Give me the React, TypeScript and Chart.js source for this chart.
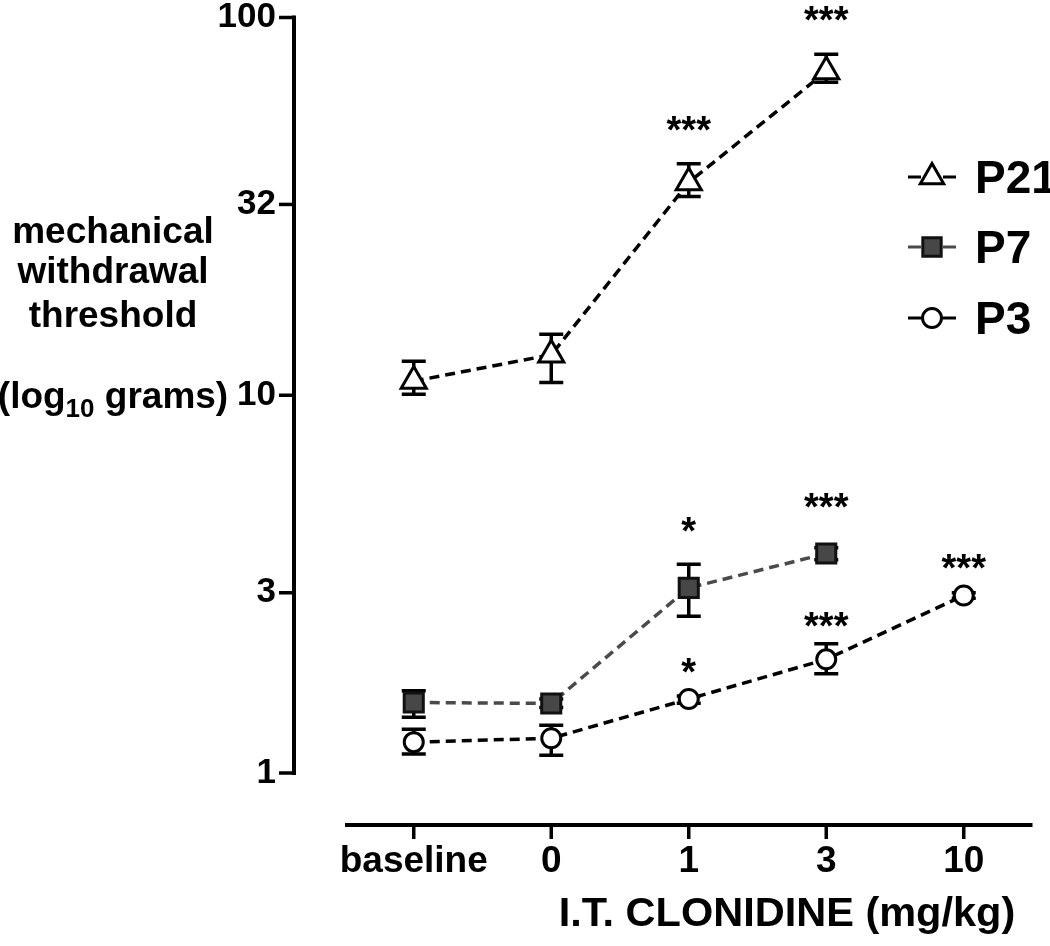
import React, { useEffect, useRef } from "react";
import { Chart, registerables } from "chart.js";
import { drawPoint } from "chart.js/helpers";

Chart.register(...registerables);

const DOSES = ["baseline", "0", "1", "3", "10"];
const Y_TICKS = [1, 3, 10, 32, 100];

const P21_MEAN = [10.9, 12.8, 36.6, 72.0, null];
const P21_HI = [12.3, 14.5, 41.0, 79.9, null];
const P21_LO = [10.06, 10.8, 33.6, 67.4, null];
const P21_SIG = ["", "", "***", "***", ""];

const P7_MEAN = [1.537, 1.528, 3.09, 3.81, null];
const P7_HI = [1.65, 1.57, 3.57, 3.95, null];
const P7_LO = [1.404, 1.49, 2.6, 3.67, null];
const P7_SIG = ["", "", "*", "***", ""];

const P3_MEAN = [1.207, 1.236, 1.57, 2.0, 2.95];
const P3_HI = [1.305, 1.337, 1.6, 2.2, 3.0];
const P3_LO = [1.122, 1.115, 1.53, 1.83, 2.9];
const P3_SIG = ["", "", "*", "***", "***"];

const SERIES_NAMES = ["P21", "P7", "P3"];
const Y_TITLE_LINES = ["mechanical", "withdrawal", "threshold"];
const X_TITLE = "I.T. CLONIDINE (mg/kg)";

const FONT = '"Liberation Sans", Arial, Helvetica, sans-serif';

const decor = {
  id: "decor",
  beforeDatasetsDraw(chart: any) {
    const ctx = chart.ctx;
    const xs = chart.scales.x;
    const ys = chart.scales.y;
    chart.data.datasets.forEach((ds: any) => {
      ds.errHi.forEach((hi: number | null, i: number) => {
        if (hi == null) return;
        const px = xs.getPixelForValue(i);
        const top = ys.getPixelForValue(hi);
        const bot = ys.getPixelForValue(ds.errLo[i]);
        ctx.save();
        ctx.strokeStyle = "#000";
        ctx.lineWidth = 3.5;
        ctx.beginPath();
        ctx.moveTo(px, top);
        ctx.lineTo(px, bot);
        ctx.moveTo(px - 12, top);
        ctx.lineTo(px + 12, top);
        ctx.moveTo(px - 12, bot);
        ctx.lineTo(px + 12, bot);
        ctx.stroke();
        ctx.restore();
      });
    });
  },
  afterDraw(chart: any) {
    const ctx = chart.ctx;
    const xs = chart.scales.x;
    const ys = chart.scales.y;
    const area = chart.chartArea;
    ctx.save();
    ctx.strokeStyle = "#000";
    ctx.fillStyle = "#000";

    // y axis line + ticks
    const yAxisX = 294;
    ctx.lineWidth = 4;
    ctx.beginPath();
    ctx.moveTo(yAxisX, ys.getPixelForValue(100) - 2);
    ctx.lineTo(yAxisX, ys.getPixelForValue(1) + 2);
    ctx.stroke();
    ctx.lineWidth = 3.5;
    Y_TICKS.forEach((v) => {
      const py = ys.getPixelForValue(v);
      ctx.beginPath();
      ctx.moveTo(yAxisX, py);
      ctx.lineTo(yAxisX - 15, py);
      ctx.stroke();
    });

    // x axis line + ticks
    const xAxisY = 825;
    ctx.lineWidth = 4;
    ctx.beginPath();
    ctx.moveTo(area.left, xAxisY);
    ctx.lineTo(area.right, xAxisY);
    ctx.stroke();
    ctx.lineWidth = 3.5;
    DOSES.forEach((_, i) => {
      const px = xs.getPixelForValue(i);
      ctx.beginPath();
      ctx.moveTo(px, xAxisY);
      ctx.lineTo(px, xAxisY + 14);
      ctx.stroke();
    });

    // significance stars
    ctx.font = `bold 38px ${FONT}`;
    ctx.textAlign = "center";
    ctx.textBaseline = "alphabetic";
    chart.data.datasets.forEach((ds: any) => {
      ds.sig.forEach((s: string, i: number) => {
        if (!s) return;
        const px = xs.getPixelForValue(i);
        const top = Math.min(
          ys.getPixelForValue(ds.errHi[i]),
          ys.getPixelForValue(ds.data[i]) - ds.pointRadius
        );
        const center = top - ds.starGap;
        ctx.fillText(s, px, center + 0.58 * 38);
      });
    });

    // legend
    const rows = [177, 247, 318];
    chart.data.datasets.forEach((ds: any, k: number) => {
      const cy = rows[k];
      const mx = 932;
      ctx.strokeStyle = ds.borderColor;
      ctx.lineWidth = 3;
      ctx.beginPath();
      ctx.moveTo(908, cy);
      ctx.lineTo(921, cy);
      ctx.moveTo(943, cy);
      ctx.lineTo(956, cy);
      ctx.stroke();
      ctx.fillStyle = ds.pointBackgroundColor;
      ctx.strokeStyle = ds.pointBorderColor;
      ctx.lineWidth = 3;
      drawPoint(
        ctx,
        { pointStyle: ds.pointStyle, radius: ds.legendRadius, borderWidth: 3, rotation: 0 },
        mx,
        cy
      );
      ctx.fillStyle = "#000";
      ctx.font = `bold 46px ${FONT}`;
      ctx.textAlign = "left";
      ctx.textBaseline = "alphabetic";
      ctx.fillText(SERIES_NAMES[k], 975, cy + 0.358 * 46);
    });

    // y title
    ctx.fillStyle = "#000";
    ctx.textAlign = "center";
    ctx.font = `bold 37px ${FONT}`;
    const tx = 113;
    const baselines = [243, 283, 327];
    Y_TITLE_LINES.forEach((t, i) => ctx.fillText(t, tx, baselines[i]));
    const a = "(log";
    const sub = "10";
    const b = " grams)";
    ctx.font = `bold 37px ${FONT}`;
    const wa = ctx.measureText(a).width;
    const wb = ctx.measureText(b).width;
    ctx.font = `bold 26px ${FONT}`;
    const ws = ctx.measureText(sub).width;
    let sx = tx - (wa + ws + wb) / 2;
    ctx.textAlign = "left";
    ctx.font = `bold 37px ${FONT}`;
    ctx.fillText(a, sx, 408);
    sx += wa;
    ctx.font = `bold 26px ${FONT}`;
    ctx.fillText(sub, sx, 417);
    sx += ws;
    ctx.font = `bold 37px ${FONT}`;
    ctx.fillText(b, sx, 408);

    // x title
    ctx.textAlign = "center";
    ctx.font = `bold 41.5px ${FONT}`;
    ctx.fillText(X_TITLE, 787, 926);

    ctx.restore();
  },
};

export default function App() {
  const ref = useRef<HTMLCanvasElement>(null);
  useEffect(() => {
    const baseLine = {
      borderWidth: 3.5,
      borderDash: [10, 6],
      tension: 0,
      spanGaps: false,
      pointBorderWidth: 3,
      clip: false,
    };
    const chart = new Chart(ref.current as HTMLCanvasElement, {
      type: "line",
      data: {
        labels: DOSES,
        datasets: [
          {
            ...baseLine,
            label: "P21",
            data: P21_MEAN,
            borderColor: "#000",
            pointStyle: "triangle",
            pointRadius: 14.5,
            legendRadius: 13.5,
            pointBackgroundColor: "#fff",
            pointBorderColor: "#000",
            errHi: P21_HI,
            errLo: P21_LO,
            sig: P21_SIG,
            starGap: 43,
          } as any,
          {
            ...baseLine,
            label: "P7",
            data: P7_MEAN,
            borderColor: "#4a4a4a",
            pointStyle: "rect",
            pointRadius: 13.5,
            legendRadius: 13,
            pointBackgroundColor: "#474747",
            pointBorderColor: "#111",
            errHi: P7_HI,
            errLo: P7_LO,
            sig: P7_SIG,
            starGap: 42,
          } as any,
          {
            ...baseLine,
            label: "P3",
            data: P3_MEAN,
            borderColor: "#000",
            pointStyle: "circle",
            pointRadius: 9.5,
            legendRadius: 9.5,
            pointBackgroundColor: "#fff",
            pointBorderColor: "#000",
            errHi: P3_HI,
            errLo: P3_LO,
            sig: P3_SIG,
            starGap: 27,
          } as any,
        ],
      },
      options: {
        responsive: false,
        animation: false,
        devicePixelRatio: 1,
        layout: { padding: { left: 0, right: 15, top: 13, bottom: 0 } },
        plugins: {
          legend: { display: false },
          tooltip: { enabled: false },
          title: { display: false },
        },
        scales: {
          x: {
            type: "category",
            offset: true,
            grid: { display: false, drawTicks: false },
            border: { display: false },
            ticks: {
              padding: 67,
              color: "#000",
              maxRotation: 0,
              autoSkip: false,
              font: { family: FONT, size: 37, weight: "bold" },
            },
            afterFit: (s: any) => {
              s.height = 173;
              s.paddingLeft = 0;
              s.paddingRight = 0;
            },
          },
          y: {
            type: "logarithmic",
            min: 1,
            max: 100,
            grid: { display: false, drawTicks: false },
            border: { display: false },
            afterBuildTicks: (s: any) => {
              s.ticks = Y_TICKS.map((v) => ({ value: v }));
            },
            ticks: {
              padding: 69,
              color: "#000",
              font: { family: FONT, size: 35, weight: "bold" },
              callback: (v: any) => String(v),
            },
            afterFit: (s: any) => {
              s.width = 345;
              s.paddingTop = 0;
              s.paddingBottom = 0;
            },
          },
        },
      } as any,
      plugins: [decor],
    });
    return () => chart.destroy();
  }, []);
  return (
    <div style={{ position: "absolute", left: 0, top: 0, width: 1050, height: 946, background: "#fff" }}>
      <canvas ref={ref} width={1050} height={946} style={{ display: "block" }} />
    </div>
  );
}
